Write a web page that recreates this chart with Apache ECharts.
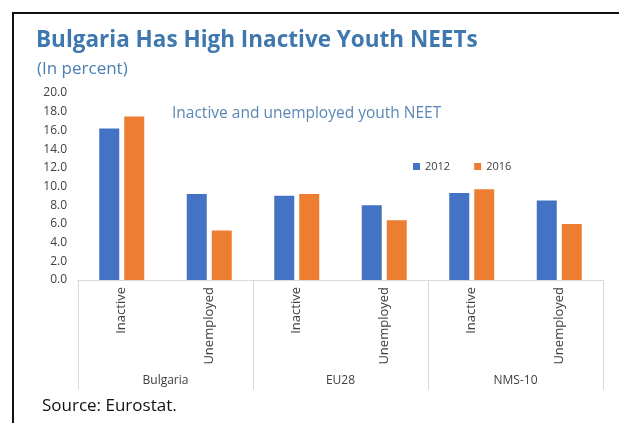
<!DOCTYPE html>
<html>
<head>
<meta charset="utf-8">
<script src="https://cdn.jsdelivr.net/npm/echarts@6/dist/echarts.min.js"></script>
<style>
  html, body { margin: 0; padding: 0; background: #fff; }
  #chart { width: 619px; height: 423px; }
</style>
</head>
<body>
<div id="chart"></div>
<script>
// Youth NEET rates (percent) by status, for each region
const categories = ['Inactive', 'Unemployed', 'Inactive', 'Unemployed', 'Inactive', 'Unemployed'];
const groups = ['Bulgaria', 'EU28', 'NMS-10'];
const years = ['2012', '2016'];
const values2012 = [16.2, 9.2, 9.0, 8.0, 9.3, 8.5];
const values2016 = [17.5, 5.3, 9.2, 6.4, 9.7, 6.0];

const BLUE = '#4472C4';
const ORANGE = '#ED7D31';
const TITLE_BLUE = '#3F78AE';
const FONT = '"Open Sans", "Noto Sans", sans-serif';

const chart = echarts.init(document.getElementById('chart'), null, { renderer: 'canvas' });

chart.setOption({
  backgroundColor: '#fff',
  animation: false,
  textStyle: { fontFamily: FONT },
  grid: { left: 78, right: 16, top: 93, bottom: 143, containLabel: false },
  legend: {
    data: years,
    left: 408,
    top: 156,
    icon: 'rect',
    itemWidth: 7,
    itemHeight: 7,
    itemGap: 24,
    textStyle: { fontSize: 11, color: '#404040', fontFamily: FONT }
  },
  xAxis: [
    {
      type: 'category',
      data: categories,
      position: 'bottom',
      axisLine: { show: true, lineStyle: { color: '#D9D9D9', width: 1 } },
      axisTick: { show: false },
      axisLabel: { rotate: 90, margin: 7, fontSize: 13, color: '#404040', fontFamily: FONT }
    },
    {
      type: 'category',
      data: groups,
      position: 'bottom',
      axisLine: { show: false },
      axisTick: { show: true, length: 110, lineStyle: { color: '#D9D9D9', width: 1 } },
      axisLabel: { margin: 95, fontSize: 12, color: '#404040', fontFamily: FONT }
    }
  ],
  yAxis: {
    type: 'value',
    min: 0,
    max: 20,
    interval: 2,
    axisLine: { show: false },
    axisTick: { show: false },
    splitLine: { show: false },
    axisLabel: {
      margin: 11,
      fontSize: 12,
      color: '#404040',
      fontFamily: FONT,
      formatter: v => v.toFixed(1)
    }
  },
  series: [
    {
      name: years[0],
      type: 'bar',
      xAxisIndex: 0,
      data: values2012,
      barWidth: 20,
      barGap: '25%',
      itemStyle: { color: BLUE }
    },
    {
      name: years[1],
      type: 'bar',
      xAxisIndex: 0,
      data: values2016,
      barWidth: 20,
      barGap: '25%',
      itemStyle: { color: ORANGE }
    }
  ],
  graphic: [
    {
      type: 'polyline',
      shape: { points: [[13, 423], [13, 13], [619, 13]] },
      style: { stroke: '#111', lineWidth: 2, fill: null },
      silent: true
    },
    {
      type: 'text',
      left: 36,
      top: 29,
      style: {
        text: 'Bulgaria Has High Inactive Youth NEETs',
        font: 'bold 22.5px ' + FONT,
        fill: TITLE_BLUE
      }
    },
    {
      type: 'text',
      left: 37,
      top: 61,
      style: {
        text: '(In percent)',
        font: '17px ' + FONT,
        fill: '#4A7FB3'
      }
    },
    {
      type: 'text',
      left: 172,
      top: 106,
      style: {
        text: 'Inactive and unemployed youth NEET',
        font: '15.5px ' + FONT,
        fill: '#5B87B5'
      }
    },
    {
      type: 'text',
      left: 42,
      top: 398,
      style: {
        text: 'Source: Eurostat.',
        font: '17px ' + FONT,
        fill: '#111'
      }
    }
  ]
});
</script>
</body>
</html>
